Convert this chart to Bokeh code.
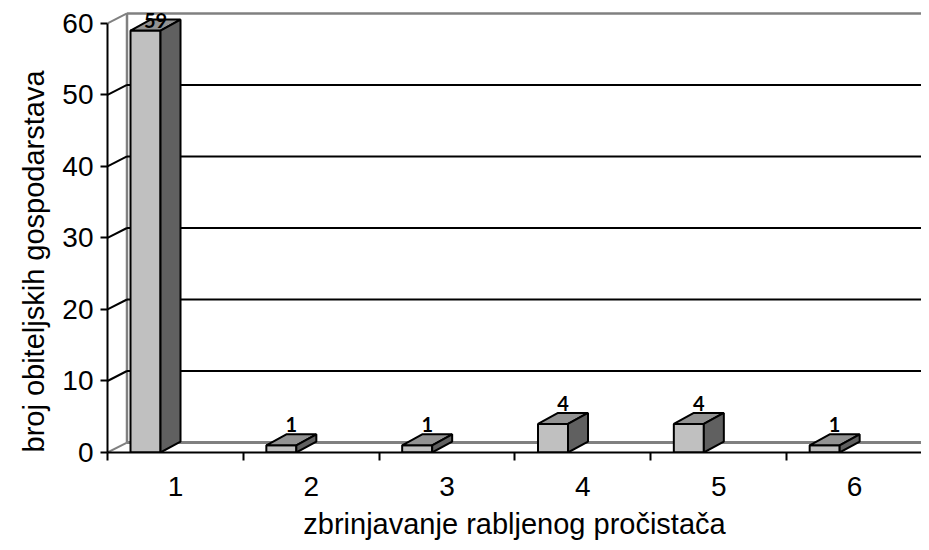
import numpy as np
from bokeh.plotting import figure
from bokeh.models import FixedTicker, Title
from bokeh.core.properties import value
from bokeh.embed import file_html
from bokeh.resources import INLINE

# ---- data ----
categories = [1, 2, 3, 4, 5, 6]
counts = [59, 1, 1, 4, 4, 1]
y_ticks = [0, 10, 20, 30, 40, 50, 60]
x_title = "zbrinjavanje rabljenog pročistača"
y_title = "broj obiteljskih gospodarstava"

# ---- geometry (pixel scales) ----
W, H = 921, 542
BL = 107
Y0PX = 453
BB = H - Y0PX
XS = 135.83          # px per category
YS = 7.167           # px per unit
FW, FH = W - BL, H - BB
X0 = 0.5
X_END = X0 + FW / XS
Y_END = FH / YS

DXW, DYW = 19.5 / XS, 10 / YS      # wall depth
DXB, DYB = 20 / XS, 11 / YS        # bar depth
BAR_L, BAR_R = -44.9 / XS, -14.9 / XS

FONT = "Liberation Sans"
FS = "28px"
TFS = "29px"

p = figure(width=W, height=H, x_range=(X0, X_END), y_range=(0, Y_END),
           output_backend="svg", toolbar_location=None,
           min_border_left=BL, min_border_right=0, min_border_top=0,
           min_border_bottom=BB)
p.outline_line_color = None
p.xgrid.visible = False
p.ygrid.visible = False

cats = np.array(categories, dtype=float)
vals = np.array(counts, dtype=float)
yt = np.array(y_ticks, dtype=float)
xmin, xmax = cats.min() - 0.5, cats.max() + 0.5

# ---- walls ----
grey = "#808080"
bx = xmin + DXW
p.line([bx, X_END], [yt[-1] + DYW] * 2, line_color=grey, line_width=2.5)
p.line([bx, bx], [DYW, yt[-1] + DYW], line_color=grey, line_width=2.5)
p.line([bx, X_END], [DYW, DYW], line_color=grey, line_width=3)
for i, v in enumerate(yt):
    inner = 0 < i < len(yt) - 1
    col = "black" if inner else grey
    p.line([xmin, bx], [v, v + DYW], line_color=col, line_width=2)
    if inner:
        p.line([bx, X_END], [v + DYW, v + DYW], line_color="black", line_width=2)
p.line([xmax, xmax + DXW], [0, DYW], line_color="black", line_width=2)

# ---- bars ----
L = cats + BAR_L
R = cats + BAR_R
front_xs = [[l, r, r, l] for l, r in zip(L, R)]
front_ys = [[0, 0, v, v] for v in vals]
top_xs = [[l, r, r + DXB, l + DXB] for l, r in zip(L, R)]
top_ys = [[v, v, v + DYB, v + DYB] for v in vals]
side_xs = [[r, r + DXB, r + DXB, r] for r in R]
side_ys = [[0, DYB, v + DYB, v] for v in vals]

p.patches(front_xs, front_ys, fill_color="#C0C0C0", line_color="black", line_width=2)
p.patches(top_xs, top_ys, fill_color="#929292", line_color="black", line_width=2)
p.patches(side_xs, side_ys, fill_color="#606060", line_color="black", line_width=2)

lab_x = (L + R) / 2 + DXB / 2
lab_y = np.minimum(vals + DYB + 2 / YS, Y_END - 28 / YS)
p.text(lab_x, lab_y, text=[str(int(v)) for v in vals],
       text_font=value("Lato"), text_font_style="bold", text_font_size="20px",
       text_align="center", text_baseline="bottom", text_color="black")

# ---- axes ----
ya = p.yaxis[0]
ya.ticker = FixedTicker(ticks=y_ticks)
ya.bounds = (yt[0], yt[-1])
ya.axis_line_width = 2
ya.major_tick_line_width = 2
ya.major_tick_in = 0
ya.major_tick_out = 7
ya.minor_tick_line_color = None
ya.major_label_standoff = 7
ya.major_label_text_font = FONT
ya.major_label_text_font_size = FS
ya.major_label_text_color = "black"

xa = p.xaxis[0]
xa.ticker = FixedTicker(ticks=categories,
                        minor_ticks=list(np.arange(xmin, xmax + 0.01, 1.0)))
xa.bounds = (xmin, xmax)
xa.axis_line_width = 2
xa.major_tick_line_color = None
xa.major_tick_in = 0
xa.major_tick_out = 8
xa.minor_tick_line_width = 2
xa.minor_tick_in = 0
xa.minor_tick_out = 8
xa.major_label_standoff = 16
xa.major_label_text_font = FONT
xa.major_label_text_font_size = FS
xa.major_label_text_color = "black"
xa.axis_label = x_title
xa.axis_label_text_font = FONT
xa.axis_label_text_font_size = TFS
xa.axis_label_text_font_style = "normal"
xa.axis_label_text_color = "black"
xa.axis_label_standoff = 9

p.add_layout(Title(text=y_title, align="left", offset=0, standoff=20,
                   text_font=FONT, text_font_size=TFS, text_font_style="normal",
                   text_color="black"), "left")

open("out.html", "w").write(file_html(p, INLINE))
